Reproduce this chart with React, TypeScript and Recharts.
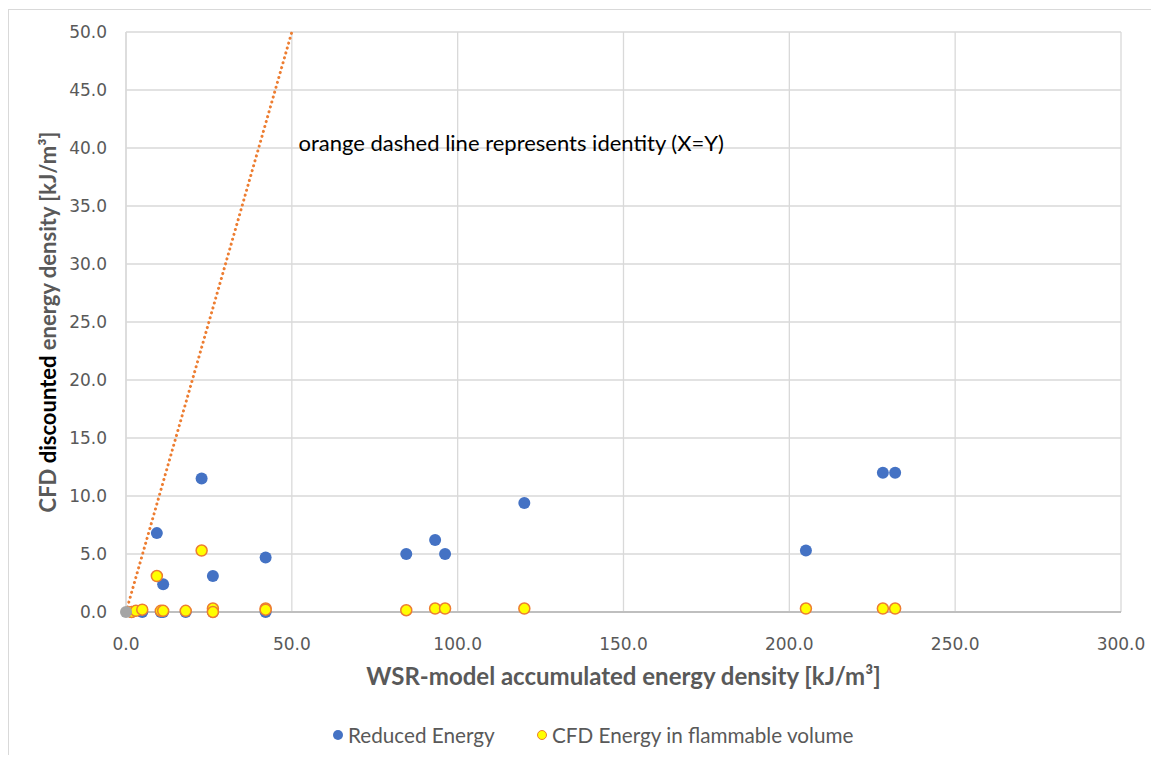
import React from "react";
import {
  ScatterChart,
  Scatter,
  XAxis,
  YAxis,
  CartesianGrid,
  ReferenceLine,
  ReferenceDot,
  Label,
} from "recharts";

// WSR-model accumulated energy density (x) vs CFD values (y)
const reducedX = [1.7, 4.9, 9.3, 10.5, 11.2, 11.2, 18.0, 22.8, 26.2, 26.2, 42.1, 42.1, 84.5, 93.2, 96.2, 120.1, 205.0, 228.2, 231.9];
const reducedY = [0.0, 0.0, 6.8, 0.0, 2.4, 0.0, 0.0, 11.5, 3.1, 0.0, 4.7, 0.0, 5.0, 6.2, 5.0, 9.4, 5.3, 12.0, 12.0];

const flammableX = [1.7, 3.0, 4.9, 9.3, 10.5, 11.2, 18.0, 22.8, 26.2, 26.2, 42.1, 42.1, 84.5, 93.2, 96.2, 120.1, 205.0, 228.2, 231.9];
const flammableY = [0.0, 0.1, 0.2, 3.1, 0.1, 0.1, 0.1, 5.3, 0.3, 0.0, 0.3, 0.2, 0.15, 0.3, 0.3, 0.3, 0.3, 0.3, 0.3];

const originX = [0];
const originY = [0];

const xTicks = [0, 50, 100, 150, 200, 250, 300];
const yTicks = [0, 5, 10, 15, 20, 25, 30, 35, 40, 45, 50];

const identity = [
  { x: 0, y: 0 },
  { x: 50, y: 50 },
];

const reducedData = reducedX.map((x, i) => ({ x, y: reducedY[i] }));
const flammableData = flammableX.map((x, i) => ({ x, y: flammableY[i] }));
const originData = originX.map((x, i) => ({ x, y: originY[i] }));

const colors = {
  blue: "#4472C4",
  orange: "#ED7D31",
  yellow: "#FFFF00",
  gray: "#A5A5A5",
  grid: "#d9d9d9",
  axis: "#bfbfbf",
  text: "#595959",
};

const tickFont = { fontFamily: "DejaVu Sans", fontSize: 17, fill: colors.text };
const titleFont = "Lato, 'Open Sans', sans-serif";

const BlueDot = (props: any) => (
  <circle cx={props.cx} cy={props.cy} r={6} fill={colors.blue} />
);

const YellowDot = (props: any) => (
  <circle cx={props.cx} cy={props.cy} r={5.5} fill={colors.yellow} stroke={colors.orange} strokeWidth={1.5} />
);

const GrayDot = (props: any) => (
  <circle cx={props.cx} cy={props.cy} r={6} fill={colors.gray} />
);

const YTitle = (props: any) => {
  const vb = props.viewBox || { x: 0, y: 24, width: 118, height: 580 };
  const cx = vb.x + 39;
  const cy = vb.y + vb.height / 2;
  return (
    <text
      x={cx}
      y={cy}
      transform={`rotate(-90 ${cx} ${cy})`}
      textAnchor="middle"
      dominantBaseline="central"
      fontFamily={titleFont}
      fontWeight="bold"
      fontSize={22}
      fill={colors.text}
    >
      <tspan>CFD </tspan>
      <tspan fill="#000">discounted</tspan>
      <tspan> energy density [kJ/m³]</tspan>
    </text>
  );
};

const XTitle = (props: any) => {
  const vb = props.viewBox || { x: 118, y: 604, width: 995, height: 143 };
  return (
    <text
      x={vb.x + vb.width / 2}
      y={vb.y + 63}
      textAnchor="middle"
      dominantBaseline="central"
      fontFamily={titleFont}
      fontWeight="bold"
      fontSize={24}
      fill={colors.text}
    >
      WSR-model accumulated energy density [kJ/m³]
    </text>
  );
};

function LegendRow() {
  const item = (dot: React.ReactNode, label: string, left: number) => (
    <div style={{ position: "absolute", left, top: 0, display: "flex", alignItems: "center", gap: 5 }}>
      {dot}
      <span>{label}</span>
    </div>
  );
  return (
    <div
      style={{
        position: "absolute",
        top: 715,
        left: 0,
        width: 1151,
        height: 24,
        fontFamily: titleFont,
        fontSize: 20.7,
        color: colors.text,
      }}
    >
      {item(<span style={{ width: 10, height: 10, borderRadius: 5, background: colors.blue, display: "inline-block" }} />, "Reduced Energy", 325)}
      {item(
        <span
          style={{
            width: 8,
            height: 8,
            borderRadius: 5,
            background: colors.yellow,
            border: `1.5px solid ${colors.orange}`,
            display: "inline-block",
          }}
        />,
        "CFD Energy in flammable volume",
        529
      )}
    </div>
  );
}

export default function App() {
  return (
    <div style={{ position: "relative", width: 1151, height: 747 }}>
      <style>{`body{overflow:hidden}`}</style>
      <div
        style={{
          position: "absolute",
          left: 0,
          top: 1,
          width: 1151,
          height: 746,
          borderTop: `1px solid ${colors.grid}`,
          borderLeft: `1px solid ${colors.grid}`,
          boxSizing: "border-box",
        }}
      />
      <ScatterChart width={1151} height={747} margin={{ top: 24, right: 38, bottom: 0, left: 0 }}>
        <CartesianGrid stroke={colors.grid} strokeWidth={1.3} />
        <XAxis
          type="number"
          dataKey="x"
          domain={[0, 300]}
          ticks={xTicks}
          height={143}
          tickFormatter={(v: number) => v.toFixed(1)}
          tick={tickFont}
          tickLine={false}
          tickMargin={20}
          axisLine={{ stroke: colors.axis, strokeWidth: 2 }}
        >
          <Label content={<XTitle />} />
        </XAxis>
        <YAxis
          type="number"
          dataKey="y"
          domain={[0, 50]}
          ticks={yTicks}
          width={118}
          tickFormatter={(v: number) => v.toFixed(1)}
          tick={tickFont}
          tickLine={false}
          tickMargin={13}
          axisLine={{ stroke: colors.grid, strokeWidth: 1.3 }}
        >
          <Label content={<YTitle />} />
        </YAxis>
        <ReferenceLine
          segment={identity}
          stroke={colors.orange}
          strokeWidth={3}
          strokeDasharray="0.1 5"
          strokeLinecap="round"
        />
        <ReferenceDot
          x={50.5}
          y={40.4}
          r={0}
          fill="none"
          stroke="none"
          label={{
            value: "orange dashed line represents identity (X=Y)",
            position: "right",
            fill: "#000",
            fontSize: 22,
            fontFamily: titleFont,
          }}
        />
        <Scatter name="Reduced Energy" data={reducedData} shape={BlueDot} isAnimationActive={false} />
        <Scatter name="CFD Energy in flammable volume" data={flammableData} shape={YellowDot} isAnimationActive={false} />
        <Scatter name="origin" data={originData} shape={GrayDot} isAnimationActive={false} />
      </ScatterChart>
      <LegendRow />
    </div>
  );
}
